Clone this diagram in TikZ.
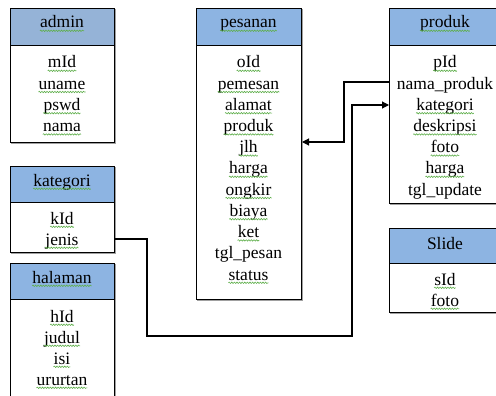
\documentclass[tikz,border=0pt]{standalone}
\usepackage{fontspec}
\setmainfont{Liberation Serif}
\usetikzlibrary{decorations.pathmorphing,arrows.meta}
\definecolor{hdrblue}{RGB}{141,180,226}
\definecolor{hdradmin}{RGB}{149,179,215}
\definecolor{squiggreen}{RGB}{95,175,75}
\definecolor{shadowgray}{RGB}{160,160,160}
\newcommand\myfsq[4]{\node[txt] (#1) at (#2,#3) {#4};
  \draw[squig] ([yshift=-2.8pt]#1.base west) -- ([yshift=-2.8pt]#1.base east);}
\newcommand\myfno[4]{\node[txt] (#1) at (#2,#3) {#4};}
\tikzset{
  tblbox/.style={draw=black,line width=1pt,inner sep=0pt,anchor=north west,
    preaction={draw=shadowgray,line width=1pt,transform canvas={xshift=1.3pt,yshift=-1.3pt}}},
  txt/.style={inner sep=0pt,anchor=base,font=\fontsize{17.5}{20}\selectfont,text=black},
  squig/.style={draw=squiggreen,line width=0.6pt,decorate,
    decoration={snake,amplitude=0.7pt,segment length=2.6pt}},
  conn/.style={draw=black,line width=1.1pt},
  arr/.style={-{Triangle[length=7pt,width=7pt]}}
}
\begin{document}
\begin{tikzpicture}[x=1pt,y=-1pt]
\useasboundingbox (0,0) rectangle (496,396);
\fill[white] (0,0) rectangle (496,396);
\clip (0,0) rectangle (496,396);
% admin
\node[tblbox,fill=hdradmin,minimum width=104pt,minimum height=37pt] (adminH) at (10,8) {};
\node[tblbox,fill=white,minimum width=104pt,minimum height=97pt] (adminB) at (10,45) {};
\myfsq{adminT}{62}{28}{admin}
\myfsq{a1}{62}{68}{mId}
\myfsq{a2}{62}{89.2}{uname}
\myfsq{a3}{62}{110.4}{pswd}
\myfsq{a4}{62}{131.6}{nama}
% kategori
\node[tblbox,fill=hdrblue,minimum width=104pt,minimum height=36pt] (katH) at (10,166) {};
\node[tblbox,fill=white,minimum width=104pt,minimum height=50pt] (katB) at (10,202) {};
\myfsq{katT}{62}{186}{kategori}
\myfsq{k1}{62}{224}{kId}
\myfsq{k2}{62}{245}{jenis}
% halaman
\node[tblbox,fill=hdrblue,minimum width=104pt,minimum height=36pt] (halH) at (10,263) {};
\node[tblbox,fill=white,minimum width=104pt,minimum height=120pt] (halB) at (10,299) {};
\myfsq{halT}{62}{283}{halaman}
\myfsq{h1}{62}{322}{hId}
\myfsq{h2}{62}{343}{judul}
\myfsq{h3}{62}{364}{isi}
\myfsq{h4}{62}{385}{ururtan}
% pesanan
\node[tblbox,fill=hdrblue,minimum width=105pt,minimum height=37pt] (pesH) at (196,8) {};
\node[tblbox,fill=white,minimum width=105pt,minimum height=254pt] (pesB) at (196,45) {};
\myfsq{pesT}{248.5}{28}{pesanan}
\myfsq{p1}{248.5}{68}{oId}
\myfsq{p2}{248.5}{89.2}{pemesan}
\myfsq{p3}{248.5}{110.4}{alamat}
\myfsq{p4}{248.5}{131.6}{produk}
\myfsq{p5}{248.5}{152.8}{jlh}
\myfsq{p6}{248.5}{174}{harga}
\myfsq{p7}{248.5}{195.2}{ongkir}
\myfsq{p8}{248.5}{216.4}{biaya}
\myfsq{p9}{248.5}{237.6}{ket}
\myfno{p10}{248.5}{258.8}{tgl\_pesan}
\myfsq{p11}{248.5}{280}{status}
% produk
\node[tblbox,fill=hdrblue,minimum width=112pt,minimum height=37pt] (prodH) at (389,8) {};
\node[tblbox,fill=white,minimum width=112pt,minimum height=158pt] (prodB) at (389,45) {};
\myfsq{prodT}{445}{28}{produk}
\myfsq{r1}{445}{68}{pId}
\myfno{r2}{445}{89.2}{nama\_produk}
\myfsq{r3}{445}{110.4}{kategori}
\myfsq{r4}{445}{131.6}{deskripsi}
\myfsq{r5}{445}{152.8}{foto}
\myfsq{r6}{445}{174}{harga}
\myfno{r7}{445}{195.2}{tgl\_update}
% Slide
\node[tblbox,fill=hdrblue,minimum width=112pt,minimum height=35pt] (slH) at (389,228) {};
\node[tblbox,fill=white,minimum width=112pt,minimum height=49pt] (slB) at (389,263) {};
\myfno{slT}{445}{249}{Slide}
\myfsq{s1}{445}{285}{sId}
\myfsq{s2}{445}{306}{foto}
% connectors
\coordinate (c1) at (344,82);
\coordinate (c2) at (344,142);
\draw[conn,arr] (prodB.west |- c1) -- (c1) -- (c2) -- (pesB.east |- c2);
\coordinate (c3) at (147,239);
\coordinate (c4) at (147,336);
\coordinate (c5) at (352,336);
\coordinate (c6) at (352,105);
\draw[conn,arr] (katB.east |- c3) -- (c3) -- (c4) -- (c5) -- (c6) -- (prodB.west |- c6);
\end{tikzpicture}
\end{document}
